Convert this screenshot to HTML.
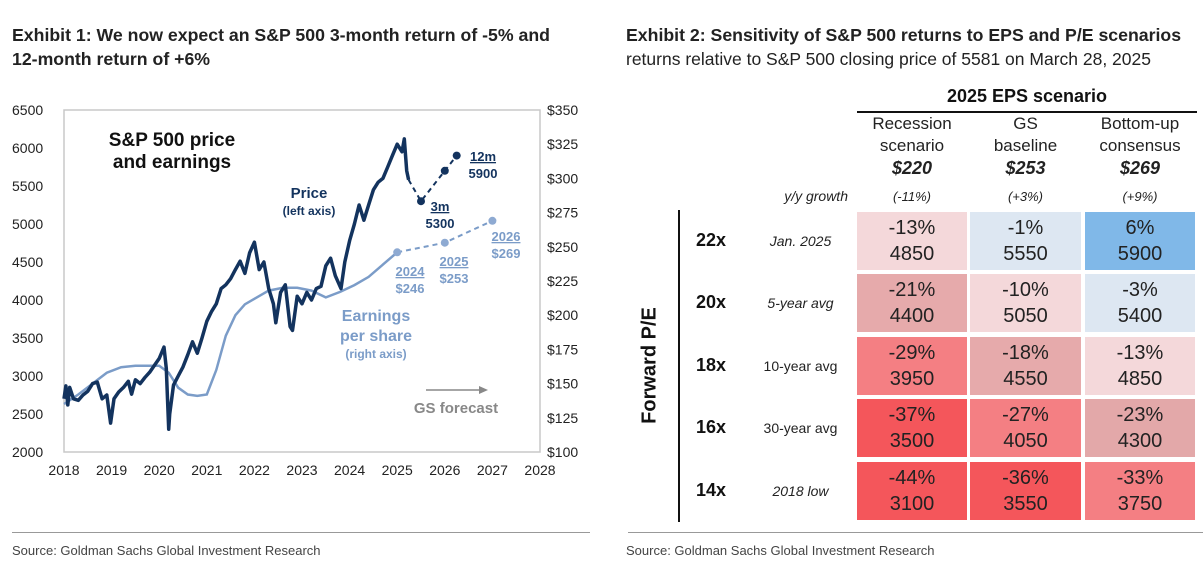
<!DOCTYPE html>
<html><head><meta charset="utf-8">
<style>
body{margin:0;background:#fff;font-family:"Liberation Sans",sans-serif;}
#wrap{position:relative;width:1203px;height:573px;overflow:hidden;background:#fff;}
.t{position:absolute;white-space:nowrap;}
.title{font-weight:bold;font-size:17.7px;color:#222;}
.src{font-family:"Liberation Sans Narrow","Liberation Sans",sans-serif;font-size:13px;color:#444;}
.hr{position:absolute;height:1px;background:#999;}
.cell{position:absolute;text-align:center;font-size:20px;color:#222;line-height:26px;}
.ch{position:absolute;text-align:center;font-size:17px;color:#222;line-height:22px;}
</style></head><body>
<div id="wrap">
<div class="t title" style="left:12px;top:25px">Exhibit 1: We now expect an S&amp;P 500 3-month return of -5% and</div>
<div class="t title" style="left:12px;top:49px">12-month return of +6%</div>
<div class="t title" style="left:626px;top:25px">Exhibit 2: Sensitivity of S&amp;P 500 returns to EPS and P/E scenarios</div>
<div class="t" style="left:626px;top:49px;font-size:17.5px;color:#222">returns relative to S&amp;P 500 closing price of 5581 on March 28, 2025</div>
<div class="hr" style="left:12px;top:532px;width:578px"></div>
<div class="hr" style="left:628px;top:532px;width:575px"></div>
<div class="t src" style="left:12px;top:543px">Source: Goldman Sachs Global Investment Research</div>
<div class="t src" style="left:626px;top:543px">Source: Goldman Sachs Global Investment Research</div>

<svg id="chart" width="600" height="500" style="position:absolute;left:0;top:0"></svg>

<div id="table"></div>
</div>
<script>
// ---- Chart data ----
const priceDates=[2018.0,2018.04,2018.08,2018.12,2018.2,2018.3,2018.4,2018.5,2018.6,2018.7,2018.8,2018.9,2018.98,2019.05,2019.15,2019.25,2019.35,2019.42,2019.5,2019.6,2019.7,2019.8,2019.9,2020.0,2020.1,2020.15,2020.2,2020.22,2020.3,2020.4,2020.5,2020.6,2020.7,2020.8,2020.9,2021.0,2021.1,2021.2,2021.3,2021.4,2021.5,2021.6,2021.7,2021.8,2021.9,2022.0,2022.1,2022.2,2022.3,2022.4,2022.45,2022.55,2022.65,2022.75,2022.8,2022.9,2023.0,2023.1,2023.2,2023.3,2023.4,2023.5,2023.6,2023.7,2023.82,2023.9,2024.0,2024.1,2024.2,2024.3,2024.4,2024.5,2024.6,2024.7,2024.8,2024.9,2025.0,2025.1,2025.15,2025.2,2025.24];
const priceValues=[2700,2870,2620,2850,2700,2680,2750,2800,2900,2920,2700,2750,2380,2700,2790,2850,2930,2760,2950,2900,2980,3050,3140,3230,3380,3100,2300,2500,2880,3000,3120,3280,3450,3300,3500,3720,3850,3950,4150,4200,4280,4400,4510,4350,4620,4760,4400,4500,4150,3950,3700,4100,4200,3650,3600,4050,3950,4100,4000,4150,4180,4450,4550,4320,4150,4500,4780,5000,5250,5050,5250,5450,5550,5600,5750,5900,6050,5950,6120,5700,5581];
const fcDates=[2025.24,2025.5,2026.0,2026.25];
const fcValues=[5581,5300,5700,5900];
const epsDates=[2018.0,2018.3,2018.6,2018.9,2019.2,2019.5,2019.8,2020.0,2020.2,2020.4,2020.6,2020.8,2021.0,2021.2,2021.4,2021.6,2021.8,2022.0,2022.3,2022.6,2022.9,2023.2,2023.5,2023.8,2024.1,2024.4,2024.7,2025.0];
const epsValues=[135,142,150,158,162,163,163,163,158,147,142,141,142,160,185,200,208,212,218,220,220,218,213,217,222,228,237,246];
const epsFcDates=[2025.0,2026.0,2027.0];
const epsFcValues=[246,253,269];
const xTicks=[2018,2019,2020,2021,2022,2023,2024,2025,2026,2027,2028];
const yTicks=[2000,2500,3000,3500,4000,4500,5000,5500,6000,6500];
const y2Ticks=[100,125,150,175,200,225,250,275,300,325,350];

const NS='http://www.w3.org/2000/svg';
const svg=document.getElementById('chart');
const X0=64,X1=540,Y0=452,Y1=110;
const xs=v=>X0+(v-2018)/10*(X1-X0);
const ys=v=>Y0-(v-2000)/4500*(Y0-Y1);
const y2s=v=>Y0-(v-100)/250*(Y0-Y1);
function mk(tag,attrs){const e=document.createElementNS(NS,tag);for(const k in attrs)e.setAttribute(k,attrs[k]);svg.appendChild(e);return e;}
let e=mk('rect',{x:X0,y:Y1,width:X1-X0,height:Y0-Y1,fill:'none',stroke:'#c8c8c8','stroke-width':1.5});


xTicks.forEach(t=>{const l=mk('text',{x:xs(t),y:475,'text-anchor':'middle','font-size':14,fill:'#222'});l.textContent=t;

});
yTicks.forEach(t=>{const l=mk('text',{x:12,y:ys(t)+5,'font-size':14,fill:'#222'});l.textContent=t;

});
y2Ticks.forEach(t=>{const l=mk('text',{x:547,y:y2s(t)+5,'font-size':14,fill:'#222'});l.textContent='$'+t;

});
function pts(d,v,s){return d.map((x,i)=>xs(x).toFixed(1)+','+s(v[i]).toFixed(1)).join(' ');}
e=mk('polyline',{points:pts(epsDates,epsValues,y2s),fill:'none',stroke:'#7b9cc8','stroke-width':2.5});


e=mk('polyline',{points:pts(epsFcDates,epsFcValues,y2s),fill:'none',stroke:'#7b9cc8','stroke-width':2,'stroke-dasharray':'5,4'});


epsFcDates.forEach((d,i)=>{const c=mk('circle',{cx:xs(d),cy:y2s(epsFcValues[i]),r:4,fill:'#8eaad2'});

});
e=mk('polyline',{points:pts(priceDates,priceValues,ys),fill:'none',stroke:'#13335e','stroke-width':3.5,'stroke-linejoin':'round'});


e=mk('polyline',{points:pts(fcDates,fcValues,ys),fill:'none',stroke:'#13335e','stroke-width':2,'stroke-dasharray':'5,4'});


fcDates.slice(1).forEach((d,i)=>{const c=mk('circle',{cx:xs(d),cy:ys(fcValues[i+1]),r:4,fill:'#13335e'});

});
function txt(s,x,y,sz,fill,w,anchor,name,ul){const l=mk('text',{x:x,y:y,'font-size':sz,fill:fill,'font-weight':w||'bold','text-anchor':anchor||'middle'});l.textContent=s;if(ul)l.setAttribute('text-decoration','underline');

return l;}
txt('S&P 500 price',172,146,19,'#111','bold','middle','chart-title');
txt('and earnings',172,168,19,'#111','bold','middle','chart-title-line2');
txt('Price',309,198,15,'#13335e','bold','middle','price-label');
txt('(left axis)',309,215,12,'#13335e','bold','middle','price-axis-note');
txt('Earnings',376,321,16,'#7b9cc8','bold','middle','eps-label');
txt('per share',376,341,16,'#7b9cc8','bold','middle','eps-label-line2');
txt('(right axis)',376,358,12,'#7b9cc8','bold','middle','eps-axis-note');
txt('3m',440,211,13,'#13335e','bold','middle','3m-label',true);
txt('5300',440,228,13,'#13335e','bold','middle','3m-value');
txt('12m',483,161,13,'#13335e','bold','middle','12m-label',true);
txt('5900',483,178,13,'#13335e','bold','middle','12m-value');
txt('2024',410,276,13,'#7b9cc8','bold','middle','eps-2024-label',true);
txt('$246',410,293,13,'#7b9cc8','bold','middle','eps-2024-value');
txt('2025',454,266,13,'#7b9cc8','bold','middle','eps-2025-label',true);
txt('$253',454,283,13,'#7b9cc8','bold','middle','eps-2025-value');
txt('2026',506,241,13,'#7b9cc8','bold','middle','eps-2026-label',true);
txt('$269',506,258,13,'#7b9cc8','bold','middle','eps-2026-value');
e=mk('line',{x1:426,y1:390,x2:480,y2:390,stroke:'#888','stroke-width':1.5});


e=mk('polygon',{points:'488,390 479,386 479,394',fill:'#888'});


txt('GS forecast',456,413,15,'#888','bold','middle','gs-forecast-label');

// ---- Table ----
const colHeads=[['Recession','scenario','$220','(-11%)'],['GS','baseline','$253','(+3%)'],['Bottom-up','consensus','$269','(+9%)']];
const rowPE=['22x','20x','18x','16x','14x'];
const rowNote=['Jan. 2025','5-year avg','10-year avg','30-year avg','2018 low'];
const rowItalic=[true,true,false,false,true];
const pct=[['-13%','-1%','6%'],['-21%','-10%','-3%'],['-29%','-18%','-13%'],['-37%','-27%','-23%'],['-44%','-36%','-33%']];
const lvl=[[4850,5550,5900],[4400,5050,5400],[3950,4550,4850],[3500,4050,4300],[3100,3550,3750]];
const tb=document.getElementById('table');
const colX=[857,970,1085],colW=[110,111,110],rowY=[212,274,337,399,462],rowH=58;
function color(p){const v=parseFloat(p);if(v>=5)return '#80b8e8';if(v>-5)return '#dde7f2';if(v>-15)return '#f4d8da';if(v>-22)return '#e6aaab';if(v>-25)return '#e3a8a9';if(v>-34)return '#f47f83';return '#f4565b';}
function div(cls,style,html,name){const d=document.createElement('div');d.className=cls;d.setAttribute('style',style);d.innerHTML=html;

tb.appendChild(d);return d;}
div('t','left:857px;top:86px;width:340px;text-align:center;font-size:18px;font-weight:bold;color:#111','2025 EPS scenario','eps-scenario-header');
div('t','left:857px;top:111px;width:340px;height:2px;background:#111','','eps-header-rule');
colHeads.forEach((h,i)=>{
 div('ch','left:'+colX[i]+'px;top:113px;width:'+colW[i]+'px',h[0]+'<br>'+h[1],'column-header');
 div('ch','left:'+colX[i]+'px;top:157px;width:'+colW[i]+'px;font-size:18px;font-weight:bold;font-style:italic',h[2],'column-eps');
 div('ch','left:'+colX[i]+'px;top:186px;width:'+colW[i]+'px;font-size:13px;font-style:italic',h[3],'column-growth');
});
div('t','right:'+(1203-848)+'px;top:188px;font-size:14px;font-style:italic;color:#222','y/y growth','yy-growth-label');
div('t','left:678px;top:210px;width:2px;height:312px;background:#111','','pe-axis-rule');
div('t','left:580px;top:354px;width:140px;text-align:center;font-size:20px;font-weight:bold;color:#111;transform:rotate(-90deg)','Forward P/E','forward-pe-label');
rowPE.forEach((r,j)=>{
 div('t','left:696px;top:'+(rowY[j]+18)+'px;font-size:18px;font-weight:bold;color:#111',r,'pe-row-label');
 div('t','left:748px;top:'+(rowY[j]+21)+'px;width:105px;text-align:center;font-size:14px;color:#222;'+(rowItalic[j]?'font-style:italic':''),rowNote[j],'pe-row-note');
 for(let i=0;i<3;i++){
  div('cell','left:'+colX[i]+'px;top:'+rowY[j]+'px;width:'+colW[i]+'px;height:'+rowH+'px;padding-top:3px;box-sizing:border-box;background:'+color(pct[j][i]),pct[j][i]+'<br>'+lvl[j][i],'sensitivity-cell');
 }
});
</script>
</body></html>
